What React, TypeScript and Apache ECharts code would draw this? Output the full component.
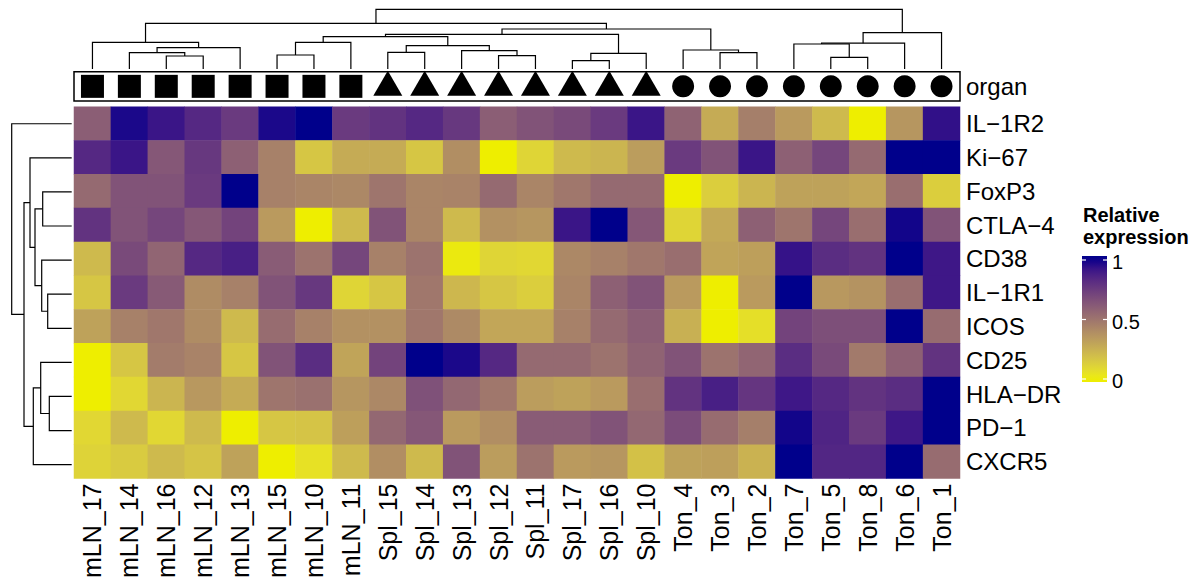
import React, { useEffect, useRef } from "react";
import * as echarts from "echarts";

// ---------------- data ----------------
const columns = [
  "mLN_17", "mLN_14", "mLN_16", "mLN_12", "mLN_13", "mLN_15", "mLN_10", "mLN_11",
  "Spl_15", "Spl_14", "Spl_13", "Spl_12", "Spl_11", "Spl_17", "Spl_16", "Spl_10",
  "Ton_4", "Ton_3", "Ton_2", "Ton_7", "Ton_5", "Ton_8", "Ton_6", "Ton_1",
];
const organ = [
  "mLN", "mLN", "mLN", "mLN", "mLN", "mLN", "mLN", "mLN",
  "Spl", "Spl", "Spl", "Spl", "Spl", "Spl", "Spl", "Spl",
  "Ton", "Ton", "Ton", "Ton", "Ton", "Ton", "Ton", "Ton",
];
const rows = ["IL−1R2", "Ki−67", "FoxP3", "CTLA−4", "CD38", "IL−1R1", "ICOS", "CD25", "HLA−DR", "PD−1", "CXCR5"];

const valIL1R2 = [0.6, 0.97, 0.92, 0.84, 0.76, 0.97, 1, 0.76, 0.79, 0.84, 0.77, 0.6, 0.65, 0.69, 0.76, 0.92, 0.58, 0.27, 0.46, 0.34, 0.21, 0, 0.36, 0.94];
const valKi67 = [0.84, 0.92, 0.63, 0.77, 0.59, 0.45, 0.16, 0.27, 0.27, 0.16, 0.39, 0, 0.1, 0.21, 0.23, 0.33, 0.76, 0.65, 0.92, 0.59, 0.71, 0.55, 1, 1];
const valFoxP3 = [0.55, 0.65, 0.65, 0.76, 1, 0.45, 0.43, 0.42, 0.5, 0.43, 0.44, 0.55, 0.43, 0.49, 0.55, 0.55, 0, 0.13, 0.23, 0.31, 0.31, 0.29, 0.53, 0.13];
const valCTLA4 = [0.79, 0.65, 0.71, 0.63, 0.72, 0.34, 0, 0.21, 0.65, 0.43, 0.21, 0.38, 0.36, 0.92, 1, 0.63, 0.1, 0.28, 0.59, 0.5, 0.71, 0.53, 0.98, 0.65];
const valCD38 = [0.21, 0.69, 0.57, 0.84, 0.88, 0.61, 0.51, 0.71, 0.45, 0.51, 0.02, 0.1, 0.09, 0.42, 0.45, 0.49, 0.53, 0.3, 0.32, 0.93, 0.82, 0.79, 1, 0.91];
const valIL1R1 = [0.16, 0.76, 0.62, 0.4, 0.45, 0.65, 0.77, 0.1, 0.16, 0.49, 0.22, 0.16, 0.13, 0.43, 0.59, 0.65, 0.34, 0, 0.34, 1, 0.35, 0.37, 0.53, 0.91];
const valICOS = [0.31, 0.45, 0.49, 0.4, 0.21, 0.54, 0.45, 0.38, 0.38, 0.49, 0.41, 0.29, 0.29, 0.45, 0.55, 0.6, 0.25, 0, 0.06, 0.72, 0.67, 0.67, 1, 0.54];
const valCD25 = [0, 0.16, 0.47, 0.44, 0.16, 0.65, 0.82, 0.3, 0.72, 1, 0.97, 0.84, 0.55, 0.55, 0.51, 0.58, 0.65, 0.51, 0.57, 0.82, 0.69, 0.48, 0.59, 0.79];
const valHLADR = [0, 0.09, 0.23, 0.35, 0.27, 0.5, 0.52, 0.36, 0.42, 0.66, 0.56, 0.49, 0.33, 0.31, 0.34, 0.53, 0.79, 0.88, 0.78, 0.91, 0.84, 0.79, 0.82, 1];
const valPD1 = [0.09, 0.21, 0.09, 0.21, 0, 0.16, 0.17, 0.32, 0.56, 0.63, 0.34, 0.39, 0.61, 0.61, 0.65, 0.56, 0.68, 0.54, 0.46, 0.98, 0.86, 0.76, 0.91, 1];
const valCXCR5 = [0.11, 0.14, 0.21, 0.17, 0.31, 0, 0.05, 0.21, 0.39, 0.21, 0.65, 0.33, 0.51, 0.34, 0.36, 0.18, 0.31, 0.32, 0.24, 1, 0.85, 0.85, 1, 0.54];

const values = [valIL1R2, valKi67, valFoxP3, valCTLA4, valCD38, valIL1R1, valICOS, valCD25, valHLADR, valPD1, valCXCR5];

// dendrogram merges: [left, right, height]; "#k" refers to merge k
const colMerges: [string, string, number][] = [
  ["mLN_16", "mLN_12", 13],
  ["mLN_14", "#0", 16.3],
  ["#1", "mLN_13", 21.3],
  ["mLN_17", "#2", 26.7],
  ["mLN_15", "mLN_10", 14],
  ["#4", "mLN_11", 26.7],
  ["Spl_15", "Spl_14", 16.7],
  ["Spl_12", "Spl_11", 13.3],
  ["Spl_13", "#7", 18.3],
  ["#6", "#8", 23.3],
  ["#5", "#9", 32.3],
  ["Spl_17", "Spl_16", 8.3],
  ["#11", "Spl_10", 15.7],
  ["#10", "#12", 34.7],
  ["Ton_3", "Ton_2", 16.3],
  ["Ton_4", "#14", 19],
  ["#13", "#15", 40],
  ["#3", "#16", 45.7],
  ["Ton_5", "Ton_8", 11.7],
  ["Ton_7", "#18", 25],
  ["#19", "Ton_6", 25.8],
  ["#20", "Ton_1", 36.3],
  ["#17", "#21", 59.7],
];

const rowMerges: [string, string, number][] = [
  ["FoxP3", "CTLA−4", 29],
  ["IL−1R1", "ICOS", 24],
  ["CD38", "#1", 30],
  ["#0", "#2", 36.7],
  ["Ki−67", "#3", 41.7],
  ["HLA−DR", "PD−1", 22.4],
  ["CD25", "#5", 31],
  ["#6", "CXCR5", 38.4],
  ["#4", "#7", 47.7],
  ["IL−1R2", "#8", 60],
];

const legendTicks = [0, 0.5, 1];
const legendTitle = ["Relative", "expression"];

// ---------------- helpers ----------------
const FONT = "'Liberation Sans', Arial, Helvetica, sans-serif";
const LOW = [238, 238, 0];
const HIGH = [0, 0, 139];

function toLin(c: number) {
  c /= 255;
  return c <= 0.04045 ? c / 12.92 : Math.pow((c + 0.055) / 1.055, 2.4);
}
function fromLin(c: number) {
  const v = c <= 0.0031308 ? 12.92 * c : 1.055 * Math.pow(c, 1 / 2.4) - 0.055;
  return Math.max(0, Math.min(255, Math.round(v * 255)));
}
function rgbToLab(rgb: number[]) {
  const r = toLin(rgb[0]), g = toLin(rgb[1]), b = toLin(rgb[2]);
  const X = (0.4124 * r + 0.3576 * g + 0.1805 * b) / 0.95047;
  const Y = 0.2126 * r + 0.7152 * g + 0.0722 * b;
  const Z = (0.0193 * r + 0.1192 * g + 0.9505 * b) / 1.08883;
  const f = (t: number) => (t > 0.008856 ? Math.cbrt(t) : 7.787 * t + 16 / 116);
  const fx = f(X), fy = f(Y), fz = f(Z);
  return [116 * fy - 16, 500 * (fx - fy), 200 * (fy - fz)];
}
function labToRgb(lab: number[]) {
  const fy = (lab[0] + 16) / 116;
  const fx = fy + lab[1] / 500;
  const fz = fy - lab[2] / 200;
  const inv = (t: number) => (t * t * t > 0.008856 ? t * t * t : (t - 16 / 116) / 7.787);
  const X = inv(fx) * 0.95047, Y = inv(fy), Z = inv(fz) * 1.08883;
  const r = 3.2406 * X - 1.5372 * Y - 0.4986 * Z;
  const g = -0.9689 * X + 1.8758 * Y + 0.0415 * Z;
  const b = 0.0557 * X - 0.204 * Y + 1.057 * Z;
  return [fromLin(r), fromLin(g), fromLin(b)];
}
const LOW_LAB = rgbToLab(LOW);
const HIGH_LAB = rgbToLab(HIGH);
function ramp(v: number) {
  const t = Math.max(0, Math.min(1, v));
  const lab = LOW_LAB.map((c, i) => c + (HIGH_LAB[i] - c) * t);
  const [r, g, b] = labToRgb(lab);
  return `rgb(${r},${g},${b})`;
}

function buildDendro(merges: [string, string, number][], leaves: string[]) {
  const pos: Record<string, number> = {};
  leaves.forEach((l, i) => (pos[l] = i));
  const nx: number[] = [];
  const nh: number[] = [];
  const get = (ref: string) =>
    ref.startsWith("#") ? { x: nx[+ref.slice(1)], h: nh[+ref.slice(1)] } : { x: pos[ref], h: 0 };
  return merges.map(([a, b, h], k) => {
    const A = get(a), B = get(b);
    nx[k] = (A.x + B.x) / 2;
    nh[k] = h;
    return [A.x, A.h, B.x, B.h, h];
  });
}

// ---------------- layout ----------------
const HM = { left: 74, top: 106.7, width: 886, height: 375 };
const ANN = { left: 74, top: 71.7, width: 886, height: 29.3 };
const CDEN = { left: 74, top: 9.3, width: 886, height: 59.7 };
const RDEN = { left: 11.7, top: 106.7, width: 60, height: 375 };
const BAR = { x: 1082, y: 256, w: 25, h: 126, v0: 379, v1: 260 };

export default function App() {
  const ref = useRef<HTMLDivElement>(null);
  useEffect(() => {
    if (!ref.current) return;
    const chart = echarts.init(ref.current, null, { renderer: "svg" });

    const heatData: number[][] = [];
    values.forEach((row, r) => row.forEach((v, c) => heatData.push([c, r, v])));

    const shapeOf: Record<string, any> = {
      mLN: { symbol: "rect", symbolSize: [23, 23], symbolOffset: [0, 0] },
      Spl: { symbol: "triangle", symbolSize: [29, 25], symbolOffset: [0, -3] },
      Ton: { symbol: "circle", symbolSize: [22, 22], symbolOffset: [0, 0] },
    };
    const organData = organ.map((o, i) => ({ value: [i, 0], ...shapeOf[o] }));

    const colD = buildDendro(colMerges, columns);
    const rowD = buildDendro(rowMerges, rows);

    const stops = [];
    for (let i = 0; i <= 20; i++) stops.push(ramp(i / 20));

    const vTop = (BAR.v0 - BAR.y) / (BAR.v0 - BAR.v1);
    const vBot = (BAR.v0 - (BAR.y + BAR.h)) / (BAR.v0 - BAR.v1);
    const gradStops = [];
    for (let i = 0; i <= 20; i++) {
      const off = i / 20;
      gradStops.push({ offset: off, color: ramp(vTop + (vBot - vTop) * off) });
    }

    const legendEls: any[] = [
      {
        type: "rect",
        shape: { x: BAR.x, y: BAR.y, width: BAR.w, height: BAR.h },
        style: { fill: new echarts.graphic.LinearGradient(0, 0, 0, 1, gradStops) },
      },
    ];
    legendTicks.forEach((t) => {
      const y = BAR.v0 - t * (BAR.v0 - BAR.v1);
      legendEls.push(
        { type: "line", shape: { x1: BAR.x, y1: y, x2: BAR.x + 4, y2: y }, style: { stroke: "#fff", lineWidth: 1.2 } },
        { type: "line", shape: { x1: BAR.x + BAR.w - 4, y1: y, x2: BAR.x + BAR.w, y2: y }, style: { stroke: "#fff", lineWidth: 1.2 } },
        {
          type: "text",
          x: BAR.x + BAR.w + 5,
          y: y + 2,
          style: { text: String(t), fontSize: 20, fontFamily: FONT, fill: "#000", verticalAlign: "middle", align: "left" },
        }
      );
    });
    legendTitle.forEach((s, i) => {
      legendEls.push({
        type: "text",
        x: 1083,
        y: 214.5 + i * 22.5,
        style: { text: s, fontSize: 20, fontWeight: "bold", fontFamily: FONT, fill: "#000", verticalAlign: "middle", align: "left" },
      });
    });

    const lineStyle = { stroke: "#000", lineWidth: 1.2, fill: null };

    chart.setOption({
      animation: false,
      textStyle: { fontFamily: FONT },
      grid: [
        { ...HM, containLabel: false },
        { ...ANN, show: true, borderColor: "#000", borderWidth: 1.5, backgroundColor: "transparent" },
        { ...CDEN },
        { ...RDEN },
      ],
      xAxis: [
        {
          type: "category", data: columns, gridIndex: 0, position: "bottom",
          axisLine: { show: false }, axisTick: { show: false }, splitLine: { show: false },
          axisLabel: { rotate: 90, fontSize: 25, color: "#000", margin: 5, fontFamily: FONT, interval: 0 },
        },
        { type: "category", data: columns, gridIndex: 1, show: false },
        { type: "value", min: -0.5, max: 23.5, gridIndex: 2, show: false },
        { type: "value", min: 0, max: 60, inverse: true, gridIndex: 3, show: false },
      ],
      yAxis: [
        {
          type: "category", data: rows, gridIndex: 0, inverse: true, position: "right",
          axisLine: { show: false }, axisTick: { show: false }, splitLine: { show: false },
          axisLabel: { fontSize: 24, color: "#000", margin: 6, fontFamily: FONT, interval: 0 },
        },
        {
          type: "category", data: ["organ"], gridIndex: 1, position: "right",
          axisLine: { show: false }, axisTick: { show: false }, splitLine: { show: false },
          axisLabel: { fontSize: 24, color: "#000", margin: 6, fontFamily: FONT },
        },
        { type: "value", min: 0, max: 59.7, gridIndex: 2, show: false },
        { type: "value", min: -0.5, max: 10.5, inverse: true, gridIndex: 3, show: false },
      ],
      visualMap: {
        type: "continuous", min: 0, max: 1, show: false, seriesIndex: 0,
        inRange: { color: stops },
      },
      series: [
        {
          type: "heatmap", xAxisIndex: 0, yAxisIndex: 0, data: heatData,
          itemStyle: { borderWidth: 0 }, emphasis: { disabled: true },
        },
        {
          type: "scatter", xAxisIndex: 1, yAxisIndex: 1, data: organData,
          itemStyle: { color: "#000", opacity: 1 }, silent: true,
        },
        {
          type: "custom", xAxisIndex: 2, yAxisIndex: 2, data: colD, silent: true,
          renderItem: (params: any, api: any) => {
            const x1 = api.value(0), h1 = api.value(1), x2 = api.value(2), h2 = api.value(3), h = api.value(4);
            return {
              type: "polyline",
              shape: { points: [api.coord([x1, h1]), api.coord([x1, h]), api.coord([x2, h]), api.coord([x2, h2])] },
              style: lineStyle,
            };
          },
        },
        {
          type: "custom", xAxisIndex: 3, yAxisIndex: 3, data: rowD, silent: true,
          renderItem: (params: any, api: any) => {
            const y1 = api.value(0), h1 = api.value(1), y2 = api.value(2), h2 = api.value(3), h = api.value(4);
            return {
              type: "polyline",
              shape: { points: [api.coord([h1, y1]), api.coord([h, y1]), api.coord([h, y2]), api.coord([h2, y2])] },
              style: lineStyle,
            };
          },
        },
      ],
      graphic: legendEls,
    });

    return () => chart.dispose();
  }, []);

  return (
    <div
      ref={ref}
      style={{ position: "absolute", left: 0, top: 0, width: 1200, height: 581, background: "#fff" }}
    />
  );
}
